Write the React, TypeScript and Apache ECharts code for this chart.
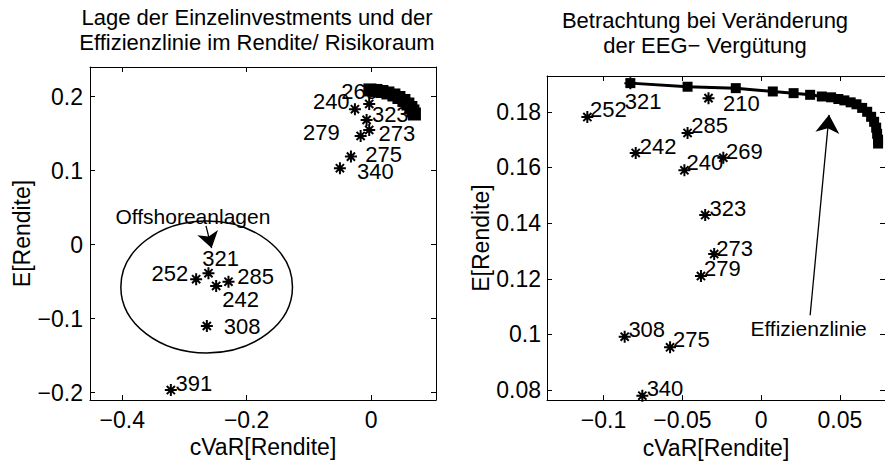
import React, { useEffect, useRef } from "react";
import * as echarts from "echarts";

// ---------- data ----------
const leftNames = ["210", "269", "240", "323", "273", "279", "275", "340", "321", "252", "242", "285", "308", "391"];
const leftCvar = [-0.0018, -0.0029, -0.0259, -0.0071, -0.0029, -0.0167, -0.0323, -0.05, -0.2614, -0.2812, -0.249, -0.2292, -0.264, -0.3219];
const leftReturn = [0.2091, 0.1902, 0.1831, 0.1686, 0.155, 0.1469, 0.119, 0.1033, -0.0386, -0.0467, -0.0558, -0.05, -0.1099, -0.1964];

const leftFrontierCvar = [-0.0018, 0.0079, 0.0175, 0.0272, 0.0368, 0.0449, 0.0529, 0.0593, 0.0641, 0.0674, 0.0698];
const leftFrontierReturn = [0.2091, 0.2084, 0.207, 0.205, 0.2023, 0.1989, 0.1949, 0.1901, 0.1854, 0.1807, 0.1766];

const rightNames = ["252", "321", "210", "285", "242", "240", "269", "323", "273", "279", "308", "275", "340"];
const rightCvar = [-0.1103, -0.083, -0.0334, -0.0467, -0.0796, -0.0487, -0.024, -0.0355, -0.0298, -0.0382, -0.0866, -0.0578, -0.0754];
const rightReturn = [0.1781, 0.1903, 0.1849, 0.1724, 0.1652, 0.159, 0.1635, 0.1429, 0.1289, 0.121, 0.0992, 0.0954, 0.078];

const rightFrontierCvar = [-0.083, -0.0467, -0.0161, 0.0074, 0.0206, 0.0311, 0.0385, 0.0444, 0.049, 0.0528, 0.0568, 0.0605, 0.0641, 0.0673, 0.0698, 0.0717, 0.073, 0.0736, 0.0742, 0.0742];
const rightFrontierReturn = [0.1903, 0.189, 0.1885, 0.1873, 0.1867, 0.1861, 0.1855, 0.1852, 0.1846, 0.1841, 0.1834, 0.1827, 0.1814, 0.18, 0.1782, 0.1764, 0.1743, 0.1721, 0.17, 0.1686];

const leftXTicks = [-0.4, -0.2, 0];
const leftYTicks = [-0.2, -0.1, 0, 0.1, 0.2];
const rightXTicks = [-0.1, -0.05, 0, 0.05];
const rightYTicks = [0.08, 0.1, 0.12, 0.14, 0.16, 0.18];

// offshore ellipse: centre cVaR, centre E, half-width, half-height (data units)
const offshoreEllipse = [-0.2643, -0.0571, 0.138, 0.0892];
// annotation arrows [from, to]
const offshoreArrow = [[-0.2654, 0.0253], [-0.2563, -0.0046]];
const frontierArrow = [[0.0311, 0.1069], [0.0431, 0.1789]];
const offshoreText = { text: "Offshoreanlagen", at: [-0.2864, 0.0377] };
const frontierText = { text: "Effizienzlinie", at: [0.0301, 0.1021] };

// ---------- label placement (layout only) ----------
const leftLabelPos = ["none", "right", "left", "right", "right", "left", "right", "right", "right", "left", "right", "right", "right", "right"];
const leftLabelOff = [[0, 0], [-35, -12.3], [1.7, -7.6], [-1.7, -5], [2.4, 4], [-14, -3.3], [7.3, -1.7], [10, 3.4], [-13.3, -15], [-1, -6], [-1, 14], [1.7, -5], [10, 0.7], [-2.4, -6.7]];
const rightLabelOff = [[-4.3, -7.3], [-12.7, 18.4], [7.4, 5], [-3.3, -7.3], [-3, -6.6], [-5, -7.4], [-4.3, -6.6], [-2.7, -6.7], [-5, -5.7], [-4, -7.3], [-3.3, -7.6], [-4, -7.6], [-2.7, -7.7]];

const FONT = '"Liberation Sans", Arial, Helvetica, sans-serif';
const STAR = "path://M5,0L5,10M0,5L10,5M1.6,1.6L8.4,8.4M1.6,8.4L8.4,1.6";

const fmt = (v: number) => String(v).replace("-", "\u2212");

function xAxisPair(grid: number, min: number, max: number, ticks: number[]) {
  const common = {
    gridIndex: grid,
    type: "value",
    min,
    max,
    splitLine: { show: false },
    axisLine: { show: true, onZero: false, lineStyle: { color: "#000", width: 1 } },
    axisTick: { show: true, inside: true, length: 5, customValues: ticks, lineStyle: { color: "#000", width: 1 } },
  };
  return [
    {
      ...common,
      position: "bottom",
      axisLabel: { show: true, customValues: ticks, formatter: fmt, fontSize: 23, color: "#000", fontFamily: FONT, margin: 8 },
      name: "cVaR[Rendite]",
      nameLocation: "middle",
      nameGap: 32,
      nameTextStyle: { fontSize: 23, color: "#000", fontFamily: FONT },
    },
    { ...common, position: "top", axisLabel: { show: false } },
  ];
}

function yAxisPair(grid: number, min: number, max: number, ticks: number[], gap: number, margin: number) {
  const common = {
    gridIndex: grid,
    type: "value",
    min,
    max,
    splitLine: { show: false },
    axisLine: { show: true, onZero: false, lineStyle: { color: "#000", width: 1 } },
    axisTick: { show: true, inside: true, length: 5, customValues: ticks, lineStyle: { color: "#000", width: 1 } },
  };
  return [
    {
      ...common,
      position: "left",
      axisLabel: { show: true, customValues: ticks, formatter: fmt, fontSize: 23, color: "#000", fontFamily: FONT, margin },
      name: "E[Rendite]",
      nameLocation: "middle",
      nameGap: gap,
      nameTextStyle: { fontSize: 23, color: "#000", fontFamily: FONT },
    },
    { ...common, position: "right", axisLabel: { show: false } },
  ];
}

function starSeries(names: string[], xs: number[], ys: number[], pos: string[] | null, offs: number[][], xi: number, yi: number) {
  const base = { distance: 0, fontSize: 22, color: "#000", fontFamily: FONT, textBorderWidth: 0 };
  return {
    type: "scatter",
    xAxisIndex: xi,
    yAxisIndex: yi,
    symbol: STAR,
    symbolSize: 12,
    z: 2,
    itemStyle: { color: "rgba(0,0,0,0)", borderColor: "#000", borderWidth: 2, opacity: 1 },
    label: { show: true, ...base, formatter: (p: any) => p.name },
    emphasis: { disabled: true },
    data: names.map((n, i) => {
      const p = pos ? pos[i] : "right";
      return {
        name: n,
        value: [xs[i], ys[i]],
        label: p === "none" ? { show: false } : { show: true, ...base, position: p, offset: offs[i] },
      };
    }),
  };
}

function frontierSeries(xs: number[], ys: number[], xi: number, yi: number, size: number, width: number) {
  return {
    type: "line",
    xAxisIndex: xi,
    yAxisIndex: yi,
    symbol: "rect",
    symbolSize: size,
    showSymbol: true,
    z: 5,
    lineStyle: { color: "#000", width },
    itemStyle: { color: "#000" },
    emphasis: { disabled: true },
    data: xs.map((x, i) => [x, ys[i]]),
  };
}

function arrowSeries(coords: number[][], xi: number, yi: number, size: number) {
  return {
    type: "lines",
    coordinateSystem: "cartesian2d",
    xAxisIndex: xi,
    yAxisIndex: yi,
    symbol: ["none", "arrow"],
    symbolSize: size,
    z: 6,
    lineStyle: { color: "#000", width: 1.3, opacity: 1 },
    data: [{ coords }],
  };
}

function textSeries(t: { text: string; at: number[] }, xi: number, yi: number) {
  const lbl = { show: true, position: "inside", fontSize: 21, color: "#000", fontFamily: FONT, textBorderWidth: 0, textBorderColor: "transparent", formatter: t.text };
  return {
    type: "scatter",
    xAxisIndex: xi,
    yAxisIndex: yi,
    symbolSize: 1,
    itemStyle: { color: "#fff", opacity: 1 },
    label: lbl,
    emphasis: { disabled: true },
    data: [{ value: t.at, label: lbl }],
  };
}

export default function App() {
  const ref = useRef<HTMLDivElement>(null);
  useEffect(() => {
    if (!ref.current) return;
    const chart = echarts.init(ref.current, null, { renderer: "svg" });
    const option: any = {
      animation: false,
      backgroundColor: "#fff",
      grid: [
        { left: 90, top: 67, width: 346, height: 333 },
        { left: 547, top: 76, width: 340, height: 326 },
      ],
      xAxis: [...xAxisPair(0, -0.4519, 0.1045, leftXTicks), ...xAxisPair(1, -0.1359, 0.0786, rightXTicks)],
      yAxis: [...yAxisPair(0, -0.2099, 0.2401, leftYTicks, 52, 7), ...yAxisPair(1, 0.07643, 0.19286, rightYTicks, 51, 6)],
      graphic: [
        {
          type: "text",
          x: 257,
          y: 5,
          style: {
            text: "Lage der Einzelinvestments und der\nEffizienzlinie im Rendite/ Risikoraum",
            textAlign: "center",
            fontSize: 22,
            lineHeight: 25,
            fill: "#000",
            fontFamily: FONT,
          },
        },
        {
          type: "text",
          x: 705,
          y: 8,
          style: {
            text: "Betrachtung bei Veränderung\nder EEG\u2212 Vergütung",
            textAlign: "center",
            fontSize: 22,
            lineHeight: 25,
            fill: "#000",
            fontFamily: FONT,
          },
        },
      ],
      series: [
        {
          type: "custom",
          xAxisIndex: 0,
          yAxisIndex: 0,
          z: 1,
          silent: true,
          encode: { x: 0, y: 1 },
          renderItem: (params: any, api: any) => {
            const c = api.coord([api.value(0), api.value(1)]);
            const s = api.size([api.value(2), api.value(3)]);
            return {
              type: "ellipse",
              shape: { cx: c[0], cy: c[1], rx: s[0], ry: s[1] },
              style: { fill: "none", stroke: "#000", lineWidth: 1.5 },
            };
          },
          data: [offshoreEllipse],
        },
        starSeries(leftNames, leftCvar, leftReturn, leftLabelPos, leftLabelOff, 0, 0),
        frontierSeries(leftFrontierCvar, leftFrontierReturn, 0, 0, 13, 6),
        arrowSeries(offshoreArrow, 0, 0, 16),
        textSeries(offshoreText, 0, 0),
        starSeries(rightNames, rightCvar, rightReturn, null, rightLabelOff, 2, 2),
        frontierSeries(rightFrontierCvar, rightFrontierReturn, 2, 2, 10, 3),
        arrowSeries(frontierArrow, 2, 2, 18),
        textSeries(frontierText, 2, 2),
      ],
    };
    chart.setOption(option);
    return () => chart.dispose();
  }, []);
  return <div ref={ref} style={{ position: "absolute", left: 0, top: 0, width: 885, height: 464 }} />;
}
